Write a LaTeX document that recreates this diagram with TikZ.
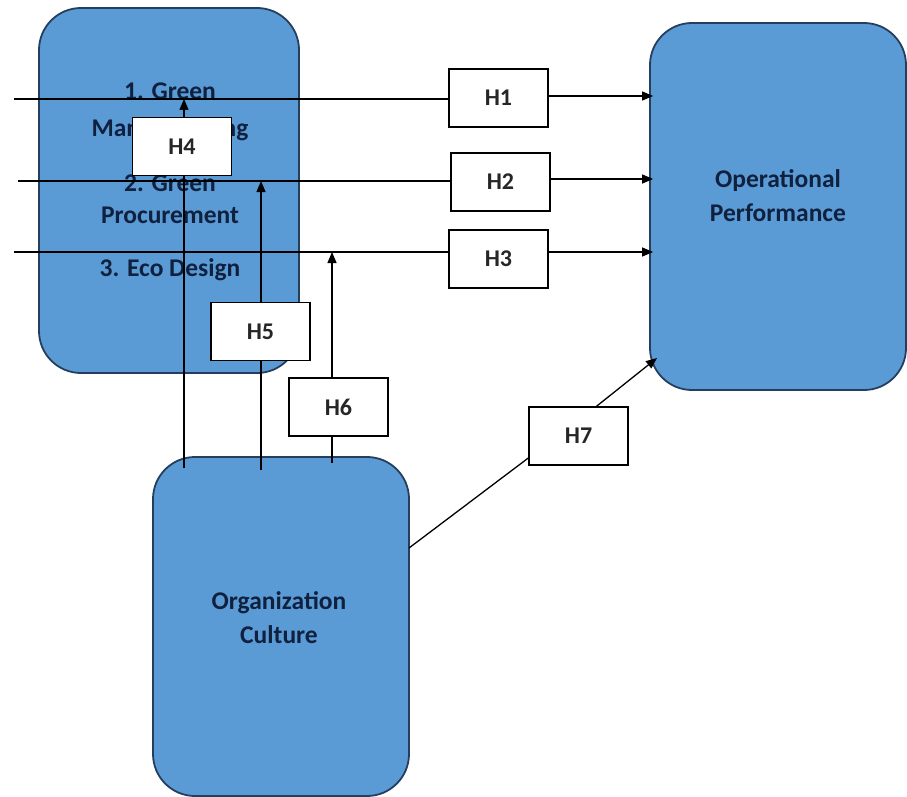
\documentclass[tikz,border=0pt]{standalone}
\usepackage{fontspec}
\setmainfont{Carlito}
\usetikzlibrary{arrows.meta}
\definecolor{boxfill}{HTML}{5B9BD5}
\definecolor{boxline}{HTML}{243E5E}
\definecolor{boxtext}{HTML}{10213F}
\pgfdeclarelayer{bg}
\pgfdeclarelayer{mid}
\pgfsetlayers{bg,mid,main}
\begin{document}
\begin{tikzpicture}[x=1pt,y=-1pt,
  bigbox/.style={draw=boxline,line width=1.8pt,fill=boxfill,rounded corners=42pt,inner sep=0pt},
  boxlbl/.style={text=boxtext,font=\fontsize{25.5}{34}\selectfont\bfseries,align=center,inner sep=0pt},
  hbox/.style={draw=black,line width=1.4pt,fill=white,minimum width=99pt,minimum height=58pt,inner sep=0pt,font=\fontsize{24}{26}\selectfont\bfseries,text=black!85},
  conn/.style={draw=black,line width=1.3pt},
  arr/.style={conn,-{Triangle[length=11pt,width=9pt]}}]
\useasboundingbox (0,0) rectangle (907,797);
\begin{pgfonlayer}{bg}
% big boxes
\node[bigbox,minimum width=260pt,minimum height=365pt] (G) at (169,190.5) {};
\node[bigbox,minimum width=256pt,minimum height=367pt] (Op) at (778,206.5) {};
\node[bigbox,minimum width=256pt,minimum height=339pt] (Org) at (281,626.5) {};
% texts
\node[boxlbl] (g1) at (170,91) {1. Green};
\node[boxlbl] (g2) at (170,130) {Manufacturing};
\node[boxlbl] (g3) at (170,183) {2. Green};
\node[boxlbl] (g4) at (170,215) {Procurement};
\node[boxlbl] (g5) at (170,270) {3. Eco Design};
\node[boxlbl] (opt) at (778,196) {Operational\\Performance};
\node[boxlbl] (orgt) at (279,618) {Organization\\Culture};
\end{pgfonlayer}
% H boxes
\node[hbox] (H1) at (498.5,98) {H1};
\node[hbox] (H2) at (500.5,182) {H2};
\node[hbox] (H3) at (498.5,259) {H3};
\node[hbox] (H4) at (182,146.5) {H4};
\node[hbox] (H5) at (260.5,331.5) {H5};
\node[hbox] (H6) at (338.5,407) {H6};
\node[hbox] (H7) at (578.5,436) {H7};
% line anchors
\coordinate (L1) at (14,99);
\coordinate (L2) at (18,181);
\coordinate (L3) at (14,252);
\coordinate (o4) at (184,468);
\coordinate (o5) at (261,470);
\coordinate (o6) at (332,463);
\coordinate (o7) at (409,548);
\coordinate (p7) at (657,358);
% connectors
\begin{pgfonlayer}{mid}
\draw[conn] (L1) -- (L1 -| H1.west);
\draw[arr] (H1.east |- 0,96) -- ([xshift=4pt]Op.west |- 0,96);
\draw[conn] (L2) -- (L2 -| H2.west);
\draw[arr] (H2.east |- 0,179) -- ([xshift=4pt]Op.west |- 0,179);
\draw[conn] (L3) -- (L3 -| H3.west);
\draw[arr] (L3 -| H3.east) -- ([xshift=4pt]L3 -| Op.west);
\draw[conn] (o4) -- (o4 |- H4.south);
\draw[arr] (o4 |- H4.north) -- (o4 |- L1);
\draw[conn] (o5) -- (o5 |- H5.south);
\draw[arr] (o5 |- H5.north) -- (o5 |- L2);
\draw[conn] (o6) -- (o6 |- H6.south);
\draw[arr] (o6 |- H6.north) -- (o6 |- L3);
\draw[conn] (o7) -- ([yshift=-22pt]H7.west);
\draw[arr] ([xshift=18pt]H7.north) -- (p7);
\end{pgfonlayer}
\end{tikzpicture}
\end{document}
